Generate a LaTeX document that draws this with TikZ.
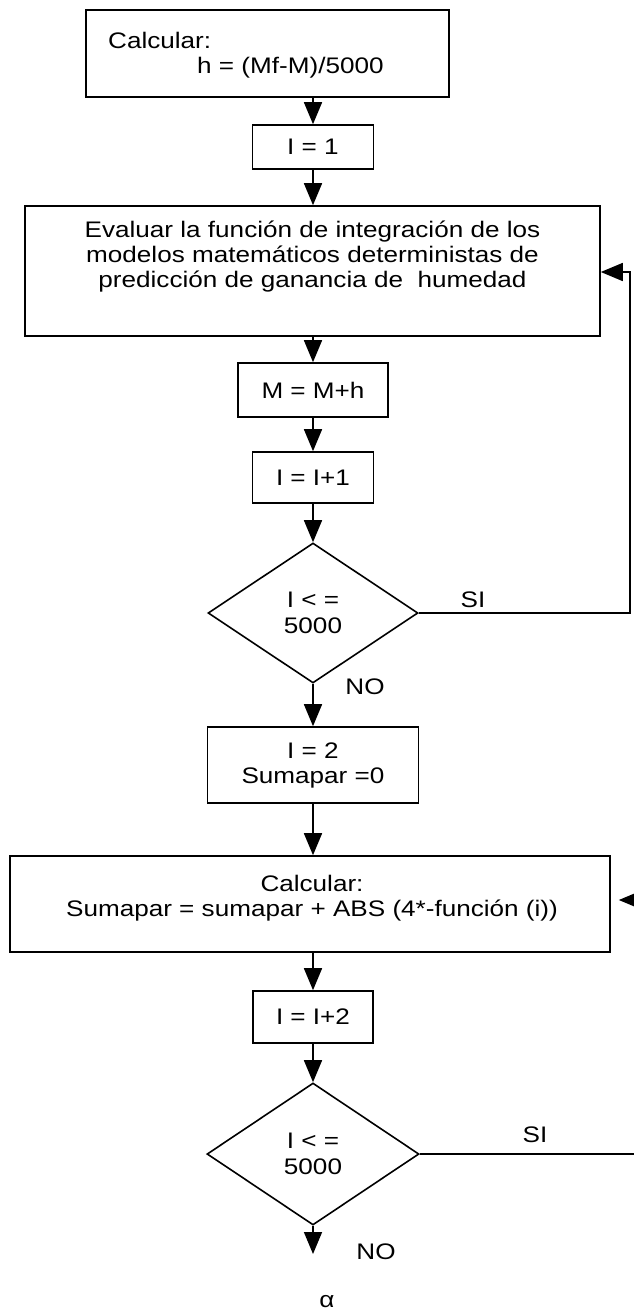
\documentclass[tikz,border=0pt]{standalone}
\usepackage{fontspec}
\setmainfont{Liberation Sans}[FakeStretch=1.16]
\usetikzlibrary{arrows.meta,shapes.geometric}
\begin{document}
\begin{tikzpicture}[x=1pt,y=-1pt,
  box/.style={draw, line width=1.6pt, inner sep=0pt, font=\fontsize{22.5}{25}\selectfont, align=center},
  dia/.style={draw, shape=diamond, line width=1.6pt, inner sep=0pt, font=\fontsize{22.5}{26}\selectfont, align=center},
  txt/.style={inner sep=0pt, font=\fontsize{22.5}{25}\selectfont, align=center},
  arr/.style={line width=1.6pt, -{Triangle[width=18pt,length=22pt]}},
  ln/.style={line width=1.6pt}]
\useasboundingbox[fill=white] (0,0) rectangle (634,1312);
% boxes
\node[box, minimum width=363pt, minimum height=87pt] (b1) at (267.5,53.5) {};
\node[txt, anchor=base west] (t1a) at (108,48) {Calcular:};
\node[txt, anchor=base west] (t1b) at (197,73) {h = (Mf-M)/5000};
\node[box, minimum width=121pt, minimum height=44pt] (b2) at (313,147) {I = 1};
\node[box, minimum width=575pt, minimum height=130pt] (b3) at (312.5,271) {};
\node[txt] (t3) at (312.5,257) {Evaluar la función de integración de los\\modelos matemáticos deterministas de\\predicción de ganancia de\ \ humedad};
\node[box, minimum width=150pt, minimum height=54pt] (b4) at (313,390) {M = M+h};
\node[box, minimum width=121pt, minimum height=51pt] (b5) at (313,477.5) {I = I+1};
\node[dia, minimum width=210pt, minimum height=140pt] (d1) at (313,613) {I < =\\5000};
\node[box, minimum width=211pt, minimum height=76pt] (b6) at (313,765) {I = 2\\Sumapar =0};
\node[box, minimum width=600pt, minimum height=96pt] (b7) at (310,904) {};
\node[txt] (t7) at (312,898) {Calcular:\\Sumapar = sumapar + ABS (4*-función (i))};
\node[box, minimum width=120pt, minimum height=52pt] (b8) at (313,1017) {I = I+2};
\node[dia, minimum width=212pt, minimum height=142pt] (d2) at (313,1154) {I < =\\5000};
% labels
\node[txt] (si1) at (473,600) {SI};
\node[txt] (no1) at (365,687) {NO};
\node[txt] (si2) at (535,1135) {SI};
\node[txt] (no2) at (376,1252) {NO};
\node[txt] (alpha) at (327,1302) {α};
% coordinates
\coordinate (r1) at (630,613);
\coordinate (r1t) at (630,272);
\coordinate (r2) at (634,1154);
\coordinate (r2t) at (634,900);
\coordinate (e2) at (313,1254);
% connectors
\draw[arr] (b2.north |- b1.south) -- (b2.north);
\draw[arr] (b2.south) -- (b2.south |- b3.north);
\draw[arr] (b4.north |- b3.south) -- (b4.north);
\draw[arr] (b4.south) -- (b5.north);
\draw[arr] (b5.south) -- (d1.north);
\draw[arr] (d1.south) -- (b6.north);
\draw[arr] (b6.south) -- (b6.south |- b7.north);
\draw[arr] (b8.north |- b7.south) -- (b8.north);
\draw[arr] (b8.south) -- (d2.north);
\draw[arr] (d2.south) -- (e2);
\draw[arr] (d1.east) -- (r1) -- (r1t) -- (b3.east |- r1t);
\draw[ln] (d2.east) -- (r2);
\draw[arr] (r2t) -- ([xshift=8pt]b7.east |- r2t);
\end{tikzpicture}
\end{document}
